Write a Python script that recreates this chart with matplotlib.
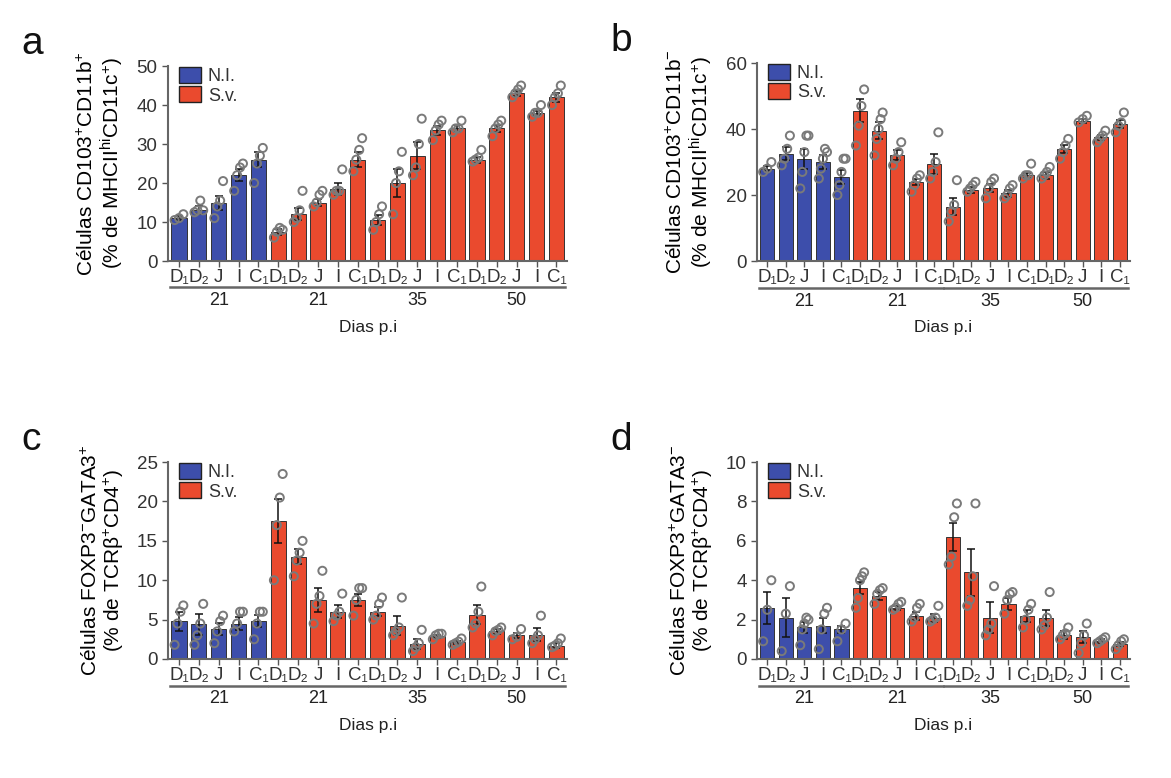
import matplotlib.pyplot as plt
import matplotlib.transforms as mtransforms
from matplotlib.patches import Patch
import numpy as np

plt.rcParams['font.family'] = ['Liberation Sans', 'DejaVu Sans']
plt.rcParams['mathtext.fontset'] = 'custom'
plt.rcParams['mathtext.rm'] = 'Liberation Sans'
plt.rcParams['mathtext.it'] = 'Liberation Sans'
plt.rcParams['mathtext.default'] = 'regular'

# eixo x: 4 grupos x 5 segmentos
segmentos = ['D\u2081', 'D\u2082', 'J', 'I', 'C\u2081']
grupos = ['21', '21', '35', '50']
grupo_ni = [True, False, False, False]

# painel a
a_media = [11, 13, 15, 22, 26,  7.5, 12, 15, 18.5, 26,  10.5, 20, 27, 33.5, 34,  26, 34, 43, 38, 42]
a_erro = [0.6, 1, 1.8, 1.5, 2,  0.7, 1.6, 1, 1.5, 2,  1.3, 3.5, 3.5, 1.2, 0.8,  0.8, 0.9, 0.6, 0.6, 1.2]
a_pontos = [[10.5, 11, 12], [12.5, 13, 15.5, 13], [11, 14, 15.5, 20.5], [18, 22, 24, 25], [20, 25, 27, 29],
            [6, 7.5, 8.5, 8], [10, 11, 13, 18], [14, 15, 17, 18], [17, 18, 18, 23.5], [23, 26, 28.5, 31.5],
            [8, 10, 12, 14], [12, 20, 23, 28], [22, 24, 30, 36.5], [31, 33.5, 35, 36], [33, 34, 34, 36],
            [25.5, 26, 26.5, 28.5], [32, 34, 35, 36], [42, 43, 44, 45], [37, 38, 38, 40], [40, 42, 43, 45]]

# painel b
b_media = [28, 32.5, 31, 30, 25.5,  45.5, 39.5, 32, 24, 29.5,  16.5, 21.5, 22, 20.5, 26,  26, 34, 42.5, 37.5, 41.5]
b_erro = [0.8, 2, 3, 2, 2.2,  3.5, 2.5, 1.5, 1, 3,  2.5, 0.8, 1.2, 1, 0.8,  1, 1.3, 0.6, 0.8, 1.2]
b_pontos = [[27, 28, 30], [29, 31, 34, 38], [22, 27, 33, 38, 38], [25, 28, 31, 34, 33], [20, 23, 27, 31, 31],
            [35, 41, 47, 52], [32, 37, 40, 43, 45], [29, 31, 33, 36], [21, 23, 25, 26], [25, 27, 30, 39],
            [12, 15, 17, 24.5], [21, 22, 23, 24], [19, 22, 24, 25], [19, 20, 22, 23], [25, 26, 26, 29.5],
            [25, 26, 27, 28.5], [31, 33, 35, 37], [42, 43, 44], [36, 37, 38, 39.5], [39, 41, 42, 45]]

# painel c
c_media = [4.8, 4.4, 3.8, 4.5, 4.8,  17.5, 13, 7.5, 6, 7.5,  6, 4.2, 1.9, 2.9, 2.1,  5.6, 3.5, 3, 3.1, 1.7]
c_erro = [1.2, 1.3, 0.8, 0.8, 0.8,  2.8, 1, 1.5, 0.8, 0.8,  0.6, 1.2, 0.6, 0.2, 0.2,  1.2, 0.3, 0.3, 0.8, 0.3]
c_pontos = [[1.8, 4.5, 6, 6.8], [1.8, 3, 4.5, 7], [2, 3.5, 4.8, 5.5], [3.5, 4.5, 6, 6], [2.5, 4.5, 6, 6],
            [10, 17, 20.5, 23.5], [10.5, 12.5, 13.5, 15], [4.5, 7, 8, 11.2], [4.8, 5.5, 6, 8.3], [5.5, 7.5, 9, 9],
            [5, 5.5, 7, 7.8], [3, 3.5, 4, 7.8], [1, 1.5, 2, 3.7], [2.5, 3, 3.2, 3.2], [1.8, 2, 2.2, 2.6],
            [4, 4.5, 6, 9.2], [3, 3.5, 3.7, 4], [2.5, 2.8, 3.8], [2, 2.5, 3, 5.5], [1.5, 1.7, 2, 2.6]]

# painel d
d_media = [2.6, 2.1, 1.6, 1.7, 1.5,  3.6, 3.2, 2.6, 2.2, 2.1,  6.2, 4.4, 2.1, 2.8, 2.2,  2.1, 1.2, 1.1, 0.9, 0.75]
d_erro = [0.8, 1, 0.3, 0.4, 0.2,  0.3, 0.2, 0.1, 0.2, 0.2,  0.7, 1.2, 0.8, 0.3, 0.3,  0.4, 0.2, 0.3, 0.1, 0.1]
d_pontos = [[0.9, 2.5, 4.0], [0.4, 2.3, 3.7], [0.7, 1.5, 1.8, 2.1, 2], [0.5, 1.5, 2.3, 2.6], [0.9, 1.5, 1.8],
            [2.6, 3.1, 4, 4.2, 4.4], [2.8, 3.3, 3.5, 3.6], [2.5, 2.6, 2.8, 2.9], [1.9, 2.1, 2.6, 2.8], [1.9, 2, 2.1, 2.7],
            [4.8, 5.2, 7.2, 7.9], [2.7, 3, 4.2, 7.9], [1.2, 1.5, 1.8, 3.7], [2.3, 3, 3.3, 3.4], [1.6, 2, 2.5, 2.8],
            [1.5, 1.7, 2.1, 3.4], [1.0, 1.2, 1.3, 1.6], [0.3, 0.8, 1.2, 1.8], [0.8, 0.9, 1.0, 1.1], [0.5, 0.7, 0.9, 1.0]]

azul = '#3d4eab'
vermelho = '#ea4a2e'

fig = plt.figure(figsize=(11.71, 7.78), dpi=100)

paineis = [
    ('a', [0.1435, 0.6645, 0.341, 0.2506], a_media, a_erro, a_pontos, 50, 10,
     'Células CD103$^{+}$CD11b$^{+}$\n(% de MHCII$^{hi}$CD11c$^{+}$)'),
    ('b', [0.6465, 0.6645, 0.3185, 0.2545], b_media, b_erro, b_pontos, 60, 20,
     'Células CD103$^{+}$CD11b$^{-}$\n(% de MHCII$^{hi}$CD11c$^{+}$)'),
    ('c', [0.1435, 0.153, 0.341, 0.253], c_media, c_erro, c_pontos, 25, 5,
     'Células FOXP3$^{-}$GATA3$^{+}$\n(% de TCRβ$^{+}$CD4$^{+}$)'),
    ('d', [0.6465, 0.153, 0.3185, 0.253], d_media, d_erro, d_pontos, 10, 2,
     'Células FOXP3$^{+}$GATA3$^{-}$\n(% de TCRβ$^{+}$CD4$^{+}$)'),
]

x = np.arange(len(grupos) * len(segmentos))
cores = []
for g in grupo_ni:
    cores += [azul if g else vermelho] * len(segmentos)

for letra, pos, media, erro, pontos, ymax, passo, ylab in paineis:
    ax = fig.add_axes(pos)
    ax.bar(x, media, width=0.76, color=cores, edgecolor='#333333', linewidth=0.7, zorder=2)
    ax.errorbar(x, media, yerr=erro, fmt='none', ecolor='#111111', elinewidth=1.1,
                capsize=3, capthick=1.1, zorder=3)
    for i, pts in enumerate(pontos):
        desl = np.linspace(-0.22, 0.22, len(pts))
        ax.scatter(x[i] + desl, pts, s=34, facecolor='none', edgecolor='#7a7a7a',
                   linewidth=1.4, zorder=4, clip_on=False)
    ax.set_xlim(-0.55, len(x) - 0.45)
    ax.set_ylim(0, ymax)
    ax.set_yticks(np.arange(0, ymax + 0.1, passo))
    ax.set_xticks(x)
    ax.set_xticklabels(segmentos * len(grupos), fontsize=13.5, color='#333333')
    ax.tick_params(axis='x', length=4, width=1, pad=1.5, colors='#555555', labelcolor='#333333')
    ax.tick_params(axis='y', length=4, width=1, labelsize=13.5, colors='#555555', labelcolor='#333333')
    for s in ['top', 'right']:
        ax.spines[s].set_visible(False)
    for s in ['left', 'bottom']:
        ax.spines[s].set_color('#666666')
        ax.spines[s].set_linewidth(1.5)
    ax.set_ylabel(ylab, fontsize=15, labelpad=8, linespacing=1.05)

    trans = mtransforms.blended_transform_factory(ax.transData, ax.transAxes)
    for k, nome in enumerate(grupos):
        x0 = k * len(segmentos) - 0.45
        x1 = k * len(segmentos) + len(segmentos) - 0.55
        ax.plot([x0, x1], [-0.135, -0.135], transform=trans, color='#666666', lw=1.8, clip_on=False)
        ax.text((x0 + x1) / 2, -0.16, nome, transform=trans, ha='center', va='top',
                fontsize=13, color='#222222')
    ax.text(0.5, -0.30, 'Dias p.i', transform=ax.transAxes, ha='center', va='top',
            fontsize=12.5, color='#222222')

    ax.legend(handles=[Patch(facecolor=azul, edgecolor='#222222', label='N.I.'),
                       Patch(facecolor=vermelho, edgecolor='#222222', label='S.v.')],
              loc='upper left', bbox_to_anchor=(0.0, 1.05), frameon=False, fontsize=13,
              handlelength=1.2, handleheight=1.0, handletextpad=0.4, labelspacing=0.05,
              borderaxespad=0.2, labelcolor='#333333')

    fig.text(pos[0] - 0.125, pos[1] + pos[3] + 0.005, letra, fontsize=28, color='#111111',
             ha='left', va='bottom')

fig.savefig('out.png', dpi=100)
